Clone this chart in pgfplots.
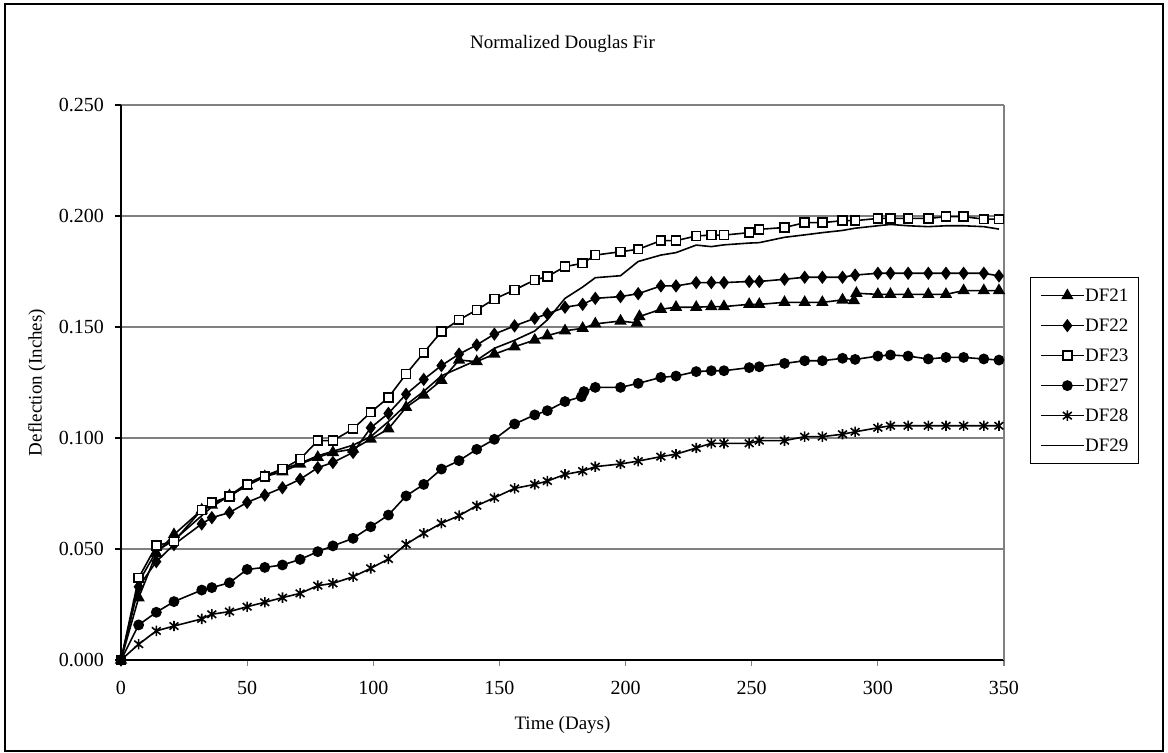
\documentclass[border=0pt]{standalone}
\usepackage{fontspec}
\setmainfont{Liberation Serif}
\usepackage{pgfplots}
\pgfplotsset{compat=1.18}
\usepackage{pgfplotstable}

\pgfdeclareplotmark{xstar}{%
  \pgfpathmoveto{\pgfqpoint{0pt}{\pgfplotmarksize}}%
  \pgfpathlineto{\pgfqpoint{0pt}{-\pgfplotmarksize}}%
  \pgfpathmoveto{\pgfqpoint{-.85\pgfplotmarksize}{.7\pgfplotmarksize}}%
  \pgfpathlineto{\pgfqpoint{.85\pgfplotmarksize}{-.7\pgfplotmarksize}}%
  \pgfpathmoveto{\pgfqpoint{-.85\pgfplotmarksize}{-.7\pgfplotmarksize}}%
  \pgfpathlineto{\pgfqpoint{.85\pgfplotmarksize}{.7\pgfplotmarksize}}%
  \pgfusepathqstroke}

\pgfplotstableread{
x y
0 0
7 0.028
14 0.048
21 0.0565
32 0.0676
36 0.0698
43 0.074
50 0.0785
57 0.0826
64 0.0848
71 0.0883
78 0.0913
84 0.0935
92 0.095
99 0.0995
106 0.1041
113 0.1138
120 0.1194
127 0.126
134 0.1351
141 0.1344
148 0.1378
156 0.1411
164 0.1441
169 0.1461
176 0.1483
183 0.1494
188 0.1514
198 0.1527
204.5 0.1518
205.5 0.1547
214 0.158
220 0.1589
228 0.1589
234 0.1592
239 0.1592
249 0.1602
253 0.1602
263 0.1611
271 0.1611
278 0.1611
286 0.1622
290.5 0.1619
291.5 0.1652
300 0.1647
305 0.1647
312 0.1647
320 0.1647
327 0.1647
334 0.1664
342 0.1664
348 0.1664
}\dfA

\pgfplotstableread{
x y
0 0
7 0.033
14 0.0443
21 0.052
32 0.0613
36 0.0641
43 0.0664
50 0.071
57 0.0743
64 0.0776
71 0.0814
78 0.0866
84 0.089
92 0.0935
99 0.1046
106 0.1111
113 0.1197
120 0.1264
127 0.1326
134 0.1378
141 0.1419
148 0.1468
156 0.1505
164 0.1539
169 0.1559
176 0.1589
183 0.1602
188 0.1629
198 0.1637
205 0.165
214 0.1685
220 0.1685
228 0.170
234 0.170
239 0.170
249 0.1705
253 0.1705
263 0.1715
271 0.1724
278 0.1724
286 0.1724
291 0.1734
300 0.1742
305 0.1742
312 0.1742
320 0.1742
327 0.1742
334 0.1742
342 0.1742
348 0.173
}\dfB

\pgfplotstableread{
x y
0 0
7 0.037
14 0.0515
21 0.0535
32 0.0676
36 0.0709
43 0.0736
50 0.0791
57 0.0826
64 0.086
71 0.0905
78 0.0988
84 0.0988
92 0.1041
99 0.1116
106 0.1182
113 0.1288
120 0.1384
127 0.1479
134 0.1532
141 0.1577
148 0.1626
156 0.1667
164 0.1712
169 0.1727
176 0.1772
183 0.1787
188 0.1824
198 0.1839
205 0.1850
214 0.1889
220 0.1889
228 0.1910
234 0.1914
239 0.1914
249 0.1925
253 0.194
263 0.1948
271 0.197
278 0.197
286 0.1979
291 0.1979
300 0.1989
305 0.1989
312 0.1989
320 0.1989
327 0.1997
334 0.1997
342 0.1986
348 0.1986
}\dfC

\pgfplotstableread{
x y
0 0
7 0.0158
14 0.0215
21 0.0263
32 0.0315
36 0.0326
43 0.0348
50 0.0408
57 0.0417
64 0.0428
71 0.0453
78 0.0488
84 0.0514
92 0.0548
99 0.060
106 0.0653
113 0.0739
120 0.0791
127 0.086
134 0.0898
141 0.0949
148 0.0994
156 0.1063
164 0.1104
169 0.1123
176 0.1164
182.5 0.1186
183.5 0.1209
188 0.1228
198 0.1228
205 0.1246
214 0.1273
220 0.1279
228 0.1299
234 0.1303
239 0.1303
249 0.1317
253 0.1321
263 0.1336
271 0.1348
278 0.1348
286 0.1359
291 0.1354
300 0.1369
305 0.1374
312 0.1369
320 0.1356
327 0.1363
334 0.1363
342 0.1356
348 0.1351
}\dfD

\pgfplotstableread{
x y
0 0
7 0.0071
14 0.0131
21 0.0153
32 0.0185
36 0.0206
43 0.0218
50 0.0240
57 0.0260
64 0.0281
71 0.0300
78 0.0335
84 0.0345
92 0.0375
99 0.0413
106 0.0455
113 0.0521
120 0.0571
127 0.0616
134 0.0650
141 0.0695
148 0.0731
156 0.0773
164 0.0791
169 0.0806
176 0.0836
183 0.0851
188 0.0871
198 0.0883
205 0.0896
214 0.0916
220 0.0927
228 0.0955
234 0.0976
239 0.0976
249 0.0976
253 0.0988
263 0.0988
271 0.1006
278 0.1006
286 0.1017
291 0.1028
300 0.1046
305 0.1055
312 0.1055
320 0.1055
327 0.1055
334 0.1055
342 0.1055
348 0.1055
}\dfE

\pgfplotstableread{
x y
0 0
7 0.035
14 0.049
21 0.054
32 0.065
36 0.069
43 0.074
50 0.0796
57 0.083
64 0.086
71 0.0886
78 0.092
84 0.094
92 0.0968
99 0.1006
106 0.1074
113 0.1149
120 0.121
127 0.128
134 0.1315
141 0.135
148 0.1404
156 0.144
164 0.1482
169 0.1532
176 0.1629
183 0.168
188 0.1722
198 0.1731
205 0.1795
214 0.1824
220 0.1835
228 0.1869
234 0.1862
239 0.187
249 0.1878
253 0.188
263 0.1904
271 0.1915
278 0.1925
286 0.1935
291 0.1945
300 0.1956
305 0.1962
312 0.1956
320 0.1952
327 0.1956
334 0.1956
342 0.1952
348 0.1941
}\dfF

\begin{document}
\begin{tikzpicture}
\begin{axis}[
  at={(0pt,0pt)}, anchor=south west,
  scale only axis, width=441.5pt, height=277.5pt,
  xmin=0, xmax=350, ymin=0, ymax=0.25,
  xtick={0,50,100,150,200,250,300,350},
  ytick={0,0.05,0.1,0.15,0.2,0.25},
  scaled y ticks=false,
  axis lines*=left,
  axis line style={black, line width=0.6pt},
  ymajorgrids,
  grid style={gray, line width=0.8pt},
  tick align=outside,
  major tick length=3pt,
  xtick style={gray, line width=0.6pt},
  ytick style={black, line width=0.6pt},
  /pgf/number format/assume math mode=true,
  tick label style={font=\fontsize{10}{12}\selectfont},
  yticklabel style={/pgf/number format/.cd, fixed, fixed zerofill, precision=3, /tikz/.cd, xshift=-2pt},
  xticklabel style={yshift=-4pt},
  title={Normalized Douglas Fir},
  title style={font=\fontsize{9.5}{11}\selectfont, at={(0.5,1.088)}, anchor=center, yshift=0pt},
  xlabel={Time (Days)},
  xlabel style={font=\fontsize{9.5}{11}\selectfont, at={(0.5,-0.117)}, anchor=center},
  ylabel={Deflection (Inches)},
  ylabel style={font=\fontsize{9.5}{11}\selectfont, at={(-0.0951,0.5)}, anchor=center},
  legend style={at={(1.0294,0.690)}, anchor=north west, draw=black, line width=0.6pt,
    font=\fontsize{9.5}{11}\selectfont, inner xsep=5pt, inner ysep=5pt,
    nodes={inner sep=0pt, text height=6.8pt, text depth=1.2pt}, row sep=7pt},
  legend cell align=left,
  legend image code/.code={\path (0pt,0pt) -- (4.5pt,0pt);\draw[mark repeat=2,mark phase=2,#1] plot coordinates {(4.5pt,0pt) (13pt,0pt) (21.5pt,0pt)};},
  /tikz/every even column/.append style={column sep=2.5pt},
  clip=false,
  every axis plot/.append style={black, line width=0.8pt},
]
\addplot[mark=triangle*, mark size=2.8pt] table[x=x,y=y] {\dfA};
\addlegendentry{DF21}
\addplot[mark=diamond*, mark size=2.7pt] table[x=x,y=y] {\dfB};
\addlegendentry{DF22}
\addplot[mark=square*, mark size=2.2pt, mark options={fill=white}] table[x=x,y=y] {\dfC};
\addlegendentry{DF23}
\addplot[mark=*, mark size=2.3pt] table[x=x,y=y] {\dfD};
\addlegendentry{DF27}
\addplot[mark=xstar, mark size=2.6pt] table[x=x,y=y] {\dfE};
\addlegendentry{DF28}
\addplot[no marks] table[x=x,y=y] {\dfF};
\addlegendentry{DF29}
\draw[gray, line width=0.8pt] (axis cs:350,0) -- (axis cs:350,0.25);
\end{axis}
\path[use as bounding box] (-60.5pt,-46.5pt) rectangle (523.5pt,330pt);
\draw[black, line width=1pt] (-58pt,-45.5pt) rectangle (521pt,328pt);
\end{tikzpicture}
\end{document}
